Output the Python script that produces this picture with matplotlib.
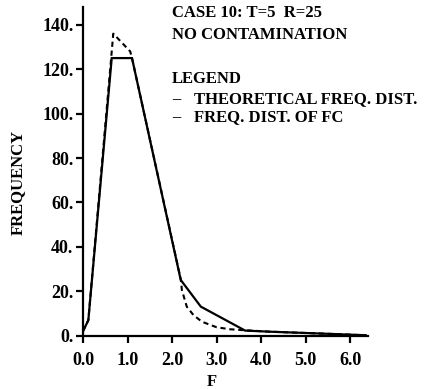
import matplotlib
matplotlib.use('Agg')
import matplotlib.pyplot as plt

# frequency distribution of FC, case 10
fc_f = [0.0, 0.12, 0.645, 1.1, 2.195, 2.645, 3.64, 4.2, 5.3, 6.35]
fc_freq = [2, 7, 125, 125, 25.1, 13.1, 2.3, 1.8, 1.0, 0.2]

# theoretical frequency distribution (dashed)
theo_f = [0.0, 0.12, 0.68, 1.06, 1.1, 2.2, 2.22, 2.33, 2.48, 2.67,
          3.0, 3.3, 3.6, 4.2, 5.3, 6.35]
theo_freq = [2, 7, 136, 128, 125, 25, 20.6, 13.1, 9.3, 6.3,
             3.8, 2.9, 2.5, 1.8, 1.0, 0.2]

x_ticks = [0, 1, 2, 3, 4, 5, 6]
x_labels = ['0.0', '1.0', '2.0', '3.0', '4.0', '5.0', '6.0']
y_ticks = [0, 20, 40, 60, 80, 100, 120, 140]
y_labels = ['0.', '20.', '40.', '60.', '80.', '100.', '120.', '140.']

header = ['CASE 10: T=5  R=25', 'NO CONTAMINATION', 'LEGEND']
legend_items = ['THEORETICAL FREQ. DIST.', 'FREQ. DIST. OF FC']

plt.rcParams['font.family'] = ['Liberation Serif', 'DejaVu Serif']
plt.rcParams['font.weight'] = 'bold'

W, H = 430, 389
fig = plt.figure(figsize=(W / 100, H / 100), dpi=100)
ax = fig.add_axes([83 / W, 53.3 / H, 285 / W, 328.7 / H])

ax.plot(fc_f, fc_freq, color='black', lw=1.6, solid_joinstyle='miter')
ax.plot(theo_f, theo_freq, color='black', lw=1.5, linestyle=(0, (2.5, 1.8)))

ax.set_xlim(0, 6.4)
ax.set_ylim(0, 148)
ax.spines['top'].set_visible(False)
ax.spines['right'].set_visible(False)
for sp in ['left', 'bottom']:
    ax.spines[sp].set_linewidth(1.6)

ax.set_xticks(x_ticks)
ax.set_xticklabels(x_labels, fontsize=13, fontweight='bold')
ax.set_yticks(y_ticks)
ax.set_yticklabels(y_labels, fontsize=13, fontweight='bold')
ax.tick_params(axis='x', direction='out', length=5, width=1.6, pad=7)
ax.tick_params(axis='y', direction='out', length=5, width=1.6, pad=2)

# axis titles placed where the print has them
fig.text(212 / W, 1 - 381.5 / H, 'F', fontsize=12, fontweight='bold',
         ha='center', va='center')
fig.text(18 / W, 1 - 182 / H, 'FREQUENCY', fontsize=12, fontweight='bold',
         ha='center', va='center', rotation=90)

# header and legend text block, top right
for txt, y in zip(header, [13, 35, 79]):
    fig.text(172 / W, 1 - y / H, txt, fontsize=12, fontweight='bold',
             va='center', ha='left')
for txt, y in zip(legend_items, [99, 117]):
    fig.text(172 / W, 1 - y / H, '\u2013', fontsize=12, fontweight='bold',
             va='center', ha='left')
    fig.text(194 / W, 1 - y / H, txt, fontsize=12, fontweight='bold',
             va='center', ha='left')

fig.savefig('out.png', dpi=100, facecolor='white')
